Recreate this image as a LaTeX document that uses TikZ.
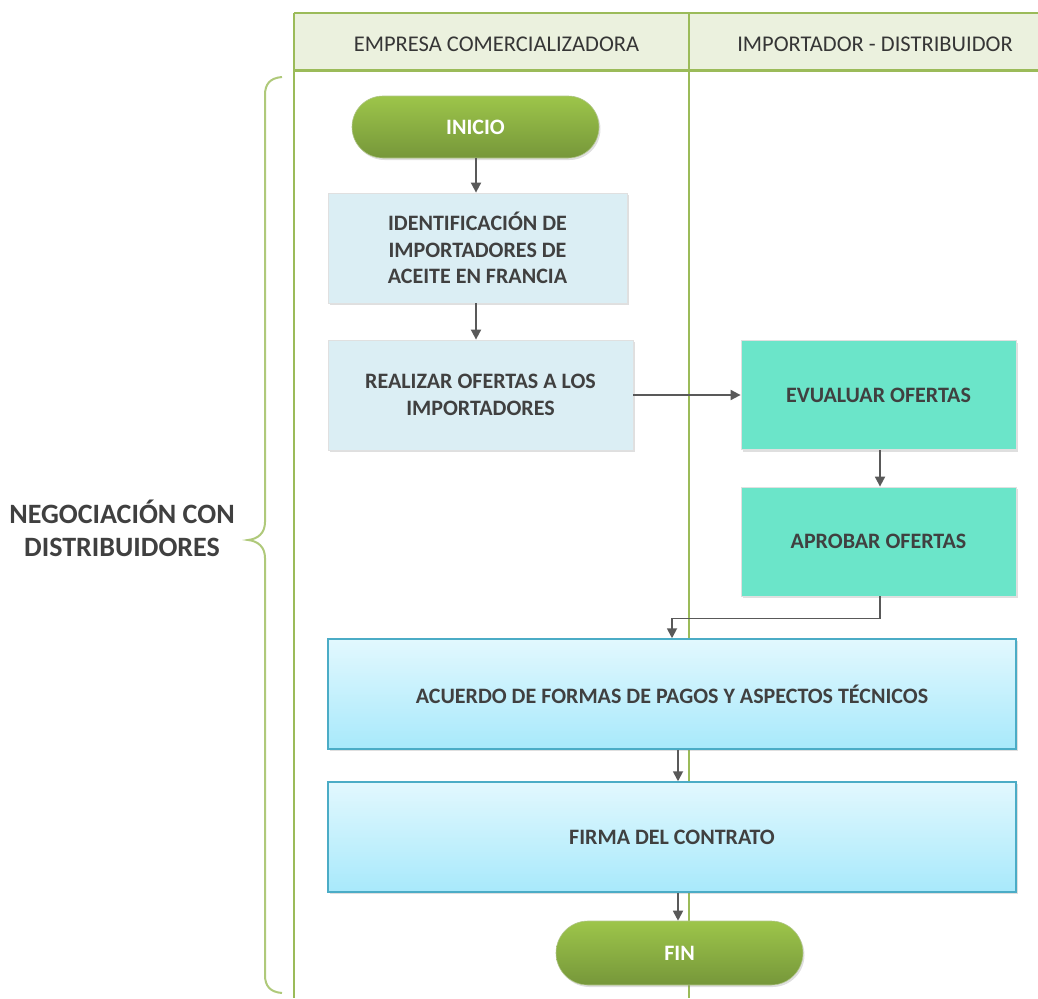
\documentclass[tikz,border=0pt]{standalone}
\usepackage{fontspec}
\setmainfont{Carlito}
\usetikzlibrary{arrows.meta,shadows,calc}
\definecolor{lanegreen}{HTML}{9BBB59}
\definecolor{headfill}{HTML}{EBF1DE}
\definecolor{txt}{HTML}{404040}
\definecolor{paleblue}{HTML}{DBEEF4}
\definecolor{turq}{HTML}{6BE5C9}
\definecolor{cyantop}{HTML}{E2F8FE}
\definecolor{cyanbot}{HTML}{A8E9FB}
\definecolor{cyanedge}{HTML}{4BACC6}
\definecolor{pilltop}{HTML}{9DC54A}
\definecolor{pillbot}{HTML}{76973A}
\definecolor{arrowgray}{HTML}{595959}
\tikzset{
  lane/.style={draw=lanegreen,line width=2pt},
  boxtext/.style={font=\bfseries\fontsize{22}{26.5}\selectfont,text=txt,align=center},
  pill/.style={boxtext,text=white,rounded corners=31pt,minimum width=247pt,minimum height=62pt,
    top color=pilltop,bottom color=pillbot,draw=pilltop!80!black!60,line width=0.6pt,
    drop shadow={shadow xshift=1.5pt,shadow yshift=-2pt,opacity=0.25}},
  softbox/.style={boxtext,fill=paleblue,draw=black!12,line width=0.8pt,
    drop shadow={shadow xshift=1.5pt,shadow yshift=-2pt,opacity=0.25}},
  turqbox/.style={boxtext,fill=turq,draw=black!12,line width=0.8pt,
    minimum width=275pt,minimum height=109pt,
    drop shadow={shadow xshift=1.5pt,shadow yshift=-2pt,opacity=0.25}},
  widebox/.style={boxtext,top color=cyantop,bottom color=cyanbot,draw=cyanedge,line width=1.5pt,
    minimum width=688pt,minimum height=110pt,
    drop shadow={shadow xshift=1.5pt,shadow yshift=-2pt,opacity=0.25}},
  lanetext/.style={font=\fontsize{22.5}{26}\selectfont,text=txt!85!black},
  arr/.style={draw=arrowgray,line width=1.8pt,-{Triangle[length=10pt,width=10pt]}}
}
\begin{document}
\begin{tikzpicture}[x=1pt,y=-1pt]
\useasboundingbox (0,0) rectangle (1038,998);
% swimlane header and lane borders
\begin{scope}
  \clip (0,0) rectangle (1038,998);
  \fill[headfill] (294,13) rectangle (1060,70);
  \draw[lane] (294,13) -- (1060,13);
  \draw[draw=lanegreen,line width=3pt] (294,70) -- (1060,70);
  \draw[lane] (294,13) -- (294,998);
  \draw[lane] (689,13) -- (689,998);
\end{scope}
\node[lanetext] (laneA) at (496.5,44) {EMPRESA COMERCIALIZADORA};
\node[lanetext] (laneB) at (875,44) {IMPORTADOR - DISTRIBUIDOR};

% brace grouping the process
\draw[draw=lanegreen!80,line width=2pt]
  (282,77) .. controls (270,78) and (265,84) .. (265,95)
  -- (265,522) .. controls (265,533) and (258,539) .. (248,540)
  .. controls (258,541) and (265,547) .. (265,558)
  -- (265,975) .. controls (265,986) and (270,992) .. (282,993);
\node[font=\bfseries\fontsize{28}{33}\selectfont,text=txt,align=center] (phase) at (122,528)
  {NEGOCIACIÓN CON\\DISTRIBUIDORES};

% process steps
\node[pill] (inicio) at (475.5,127) {INICIO};
\node[softbox,minimum width=299pt,minimum height=110pt] (ident) at (477.5,248)
  {IDENTIFICACIÓN DE\\IMPORTADORES DE\\ACEITE EN FRANCIA};
\node[softbox,minimum width=305pt,minimum height=110pt] (ofertas) at (480.5,395)
  {REALIZAR OFERTAS A LOS\\IMPORTADORES};
\node[turqbox] (evaluar) at (878.5,395) {EVUALUAR OFERTAS};
\node[turqbox] (aprobar) at (878.5,541.5) {APROBAR OFERTAS};
\node[widebox] (acuerdo) at (672,694) {ACUERDO DE FORMAS DE PAGOS Y ASPECTOS TÉCNICOS};
\node[widebox] (firma) at (672,837) {FIRMA DEL CONTRATO};
\node[pill,minimum height=64pt,rounded corners=32pt] (fin) at (679.5,953) {FIN};
\coordinate (midx) at (678,0);
\coordinate (colx) at (476,0);

% connectors
\draw[arr] (inicio.south -| colx) -- (ident.north -| colx);
\draw[arr] (ident.south -| colx) -- (ofertas.north -| colx);
\draw[arr] (ofertas.east) -- (evaluar.west);
\draw[arr] (evaluar.south -| 880,0) -- (aprobar.north -| 880,0);
\draw[arr] (aprobar.south -| 880,0) -- ++(0,22) -| (acuerdo.north);
\draw[arr] (acuerdo.south -| midx) -- (firma.north -| midx);
\draw[arr] (firma.south -| midx) -- (fin.north -| midx);
\end{tikzpicture}
\end{document}
